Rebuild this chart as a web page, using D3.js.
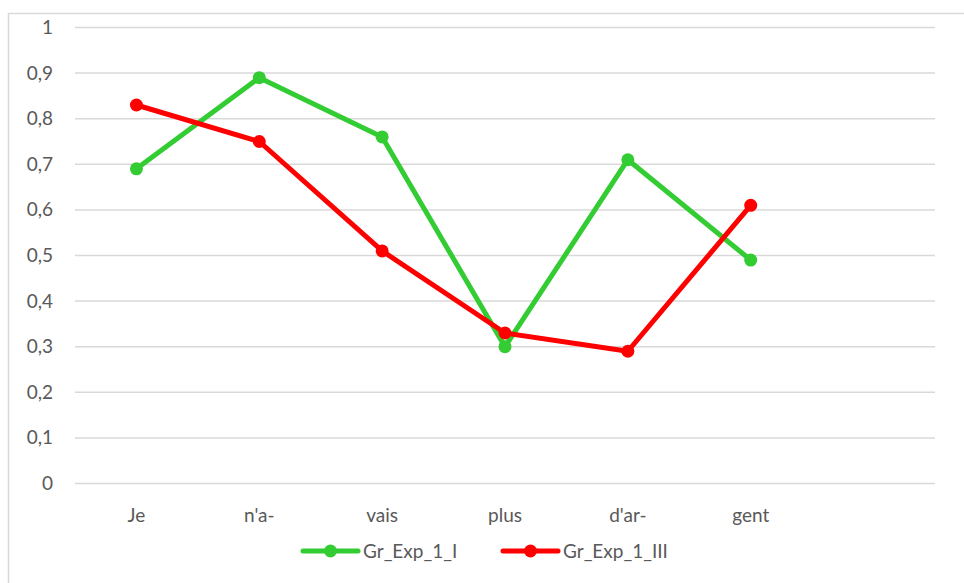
<!DOCTYPE html>
<html>
<head>
<meta charset="utf-8">
<script src="https://cdn.jsdelivr.net/npm/d3@7"></script>
<style>
  html, body { margin: 0; padding: 0; background: #fff; }
  svg { display: block; }
  text { font-family: Lato, "Open Sans", sans-serif; fill: #595959; }
</style>
</head>
<body>
<svg id="chart" width="964" height="583"></svg>
<script>
// Syllables of the sentence (the last slot is left empty)
const categories = ["Je", "n'a-", "vais", "plus", "d'ar-", "gent", ""];
const seriesNames = ["Gr_Exp_1_I", "Gr_Exp_1_III"];
const seriesGroup1 = [0.69, 0.89, 0.76, 0.30, 0.71, 0.49];
const seriesGroup3 = [0.83, 0.75, 0.51, 0.33, 0.29, 0.61];
const yTicks = [0, 0.1, 0.2, 0.3, 0.4, 0.5, 0.6, 0.7, 0.8, 0.9, 1];
const colors = ["#33CC33", "#FF0000"];
const fontSize = 19;

const svg = d3.select("#chart");

// Chart frame
svg.append("rect")
  .attr("x", 8.5).attr("y", 13.5)
  .attr("width", 980).attr("height", 600)
  .attr("fill", "none").attr("stroke", "#d9d9d9").attr("stroke-width", 1.5);

const plot = { left: 75, right: 935, top: 27.5, bottom: 483.5 };

const x = d3.scaleBand().domain(d3.range(categories.length))
  .range([plot.left, plot.right]).padding(0);
const y = d3.scaleLinear().domain([0, 1]).range([plot.bottom, plot.top]);

// Horizontal gridlines
svg.append("g").selectAll("line").data(yTicks).join("line")
  .attr("x1", plot.left).attr("x2", plot.right)
  .attr("y1", d => y(d)).attr("y2", d => y(d))
  .attr("stroke", "#d9d9d9").attr("stroke-width", 1.5);

// Y axis labels
const fmt = d => d === 0 ? "0" : d === 1 ? "1" : d3.format(".1f")(d).replace(".", ",");
const yAxis = d3.axisLeft(y).tickValues(yTicks).tickFormat(fmt).tickSize(0).tickPadding(0);
svg.append("g").attr("transform", `translate(${plot.left - 22},0)`).call(yAxis)
  .call(g => g.select(".domain").remove())
  .call(g => g.selectAll("text").attr("font-size", fontSize).attr("fill", "#595959")
    .style("font-family", "Lato, 'Open Sans', sans-serif"));

// X axis labels
const xAxis = d3.axisBottom(x).tickFormat(i => categories[i]).tickSize(0).tickPadding(0);
svg.append("g").attr("transform", `translate(0,${plot.bottom + 25})`).call(xAxis)
  .call(g => g.select(".domain").remove())
  .call(g => g.selectAll("text").attr("font-size", fontSize).attr("fill", "#595959")
    .style("font-family", "Lato, 'Open Sans', sans-serif"));

const cx = i => x(i) + x.bandwidth() / 2;
const line = d3.line().x((d, i) => cx(i)).y(d => y(d));

[seriesGroup1, seriesGroup3].forEach((vals, s) => {
  const g = svg.append("g");
  g.append("path").datum(vals)
    .attr("d", line).attr("fill", "none")
    .attr("stroke", colors[s]).attr("stroke-width", 5)
    .attr("stroke-linejoin", "round").attr("stroke-linecap", "round");
  g.selectAll("circle").data(vals).join("circle")
    .attr("cx", (d, i) => cx(i)).attr("cy", d => y(d))
    .attr("r", 6.5).attr("fill", colors[s]);
});

// Legend
const legend = svg.append("g").attr("transform", "translate(0,551)");
const legendX = [303, 503];
seriesNames.forEach((name, s) => {
  const g = legend.append("g").attr("transform", `translate(${legendX[s]},0)`);
  g.append("line").attr("x1", 0).attr("x2", 55).attr("y1", 0).attr("y2", 0)
    .attr("stroke", colors[s]).attr("stroke-width", 5).attr("stroke-linecap", "round");
  g.append("circle").attr("cx", 27.5).attr("cy", 0).attr("r", 6.5).attr("fill", colors[s]);
  g.append("text").attr("x", 60).attr("y", 0).attr("dy", "0.35em")
    .attr("font-size", fontSize).text(name);
});
</script>
</body>
</html>
